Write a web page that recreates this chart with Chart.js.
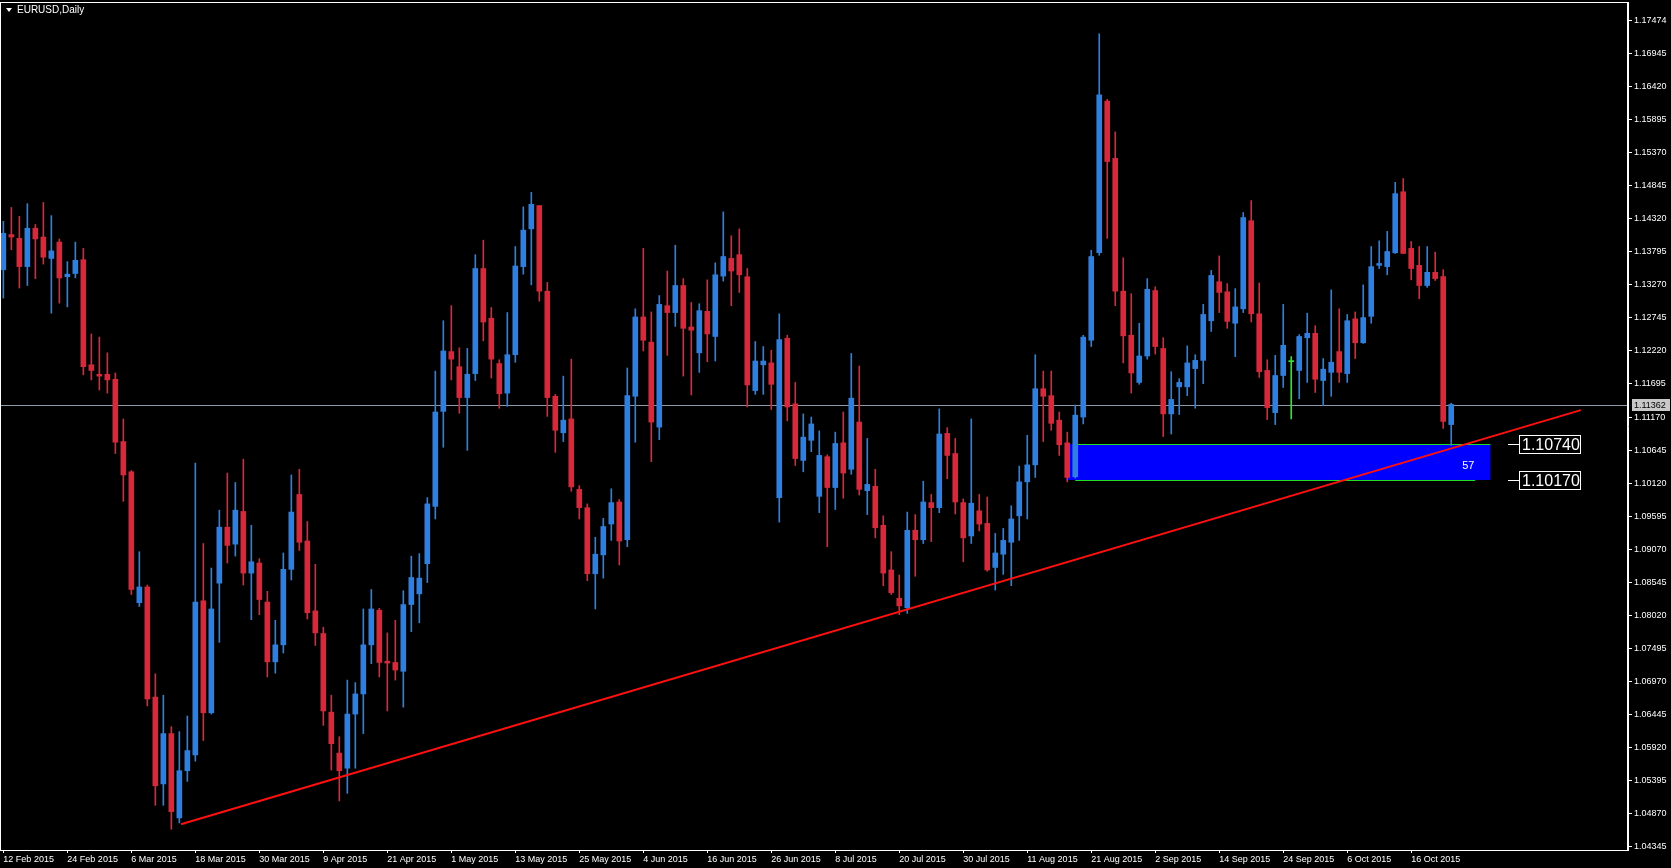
<!DOCTYPE html>
<html>
<head>
<meta charset="utf-8">
<script src="https://cdn.jsdelivr.net/npm/chart.js@4.4.0/dist/chart.umd.min.js"></script>
<style>
html, body { margin: 0; padding: 0; background: #000; }
#wrap { width: 1671px; height: 868px; }
</style>
</head>
<body>
<div id="wrap"><canvas id="chart"></canvas></div>
<script>
// EURUSD daily, 12 Feb 2015 .. 23 Oct 2015
const opens = [
    1.1351,1.1407,1.1401,1.1356,1.1417,1.1403,1.1369,1.1395,1.1340,1.1345,
    1.1367,1.1200,1.1185,1.1185,1.1177,1.1078,1.1030,1.0822,1.0847,1.0672,
    1.0534,1.0614,1.0480,1.0555,1.0580,1.0825,1.0647,1.0853,1.0942,1.0915,
    1.0967,1.0869,1.0885,1.0823,1.0728,1.0755,1.0875,1.0994,1.0920,1.0809,
    1.0773,1.0648,1.0583,1.0559,1.0645,1.0677,1.0755,1.0810,1.0729,1.0727,
    1.0713,1.0819,1.0836,1.0884,1.0975,1.1126,1.1221,1.1197,1.1148,1.1186,
    1.1353,1.1274,1.1202,1.1155,1.1216,1.1356,1.1416,1.1453,1.1317,1.1150,
    1.1092,1.1114,1.1002,1.0973,1.0868,1.0898,1.0947,1.0982,1.0922,1.1150,
    1.1276,1.1236,1.1101,1.1294,1.1283,1.1326,1.1260,1.1219,1.1285,1.1245,
    1.1341,1.1369,1.1375,1.1340,1.1159,1.1200,1.1203,1.0989,1.1242,1.1138,
    1.1048,1.1080,1.0991,1.1054,1.1005,1.1076,1.1034,1.1109,1.1000,1.1007,
    1.0945,1.0874,1.0829,1.0814,1.0937,1.0922,1.0981,1.0973,1.1091,1.1059,
    1.0981,1.0928,1.0968,1.0948,1.0878,1.0899,1.0918,1.0960,1.1014,1.1041,
    1.1162,1.1151,1.1112,1.1076,1.1022,1.1117,1.1239,1.1378,1.1619,1.1528,
    1.1317,1.1247,1.1172,1.1214,1.1318,1.1226,1.1122,1.1165,1.1165,1.1194,
    1.1207,1.1270,1.1332,1.1316,1.1266,1.1289,1.1429,1.1281,1.1191,1.1124,
    1.1183,1.1205,1.1191,1.1243,1.1250,1.1175,1.1188,1.1221,1.1186,1.1273,
    1.1235,1.1277,1.1358,1.1356,1.1378,1.1475,1.1385,1.1358,1.1326,1.1347,
    1.1340,1.1105
];
const highs = [
    1.1428,1.1450,1.1436,1.1456,1.1423,1.1458,1.1437,1.1400,1.1364,1.1395,
    1.1385,1.1249,1.1244,1.1219,1.1187,1.1114,1.1032,1.0903,1.0850,1.0709,
    1.0675,1.0625,1.0617,1.0642,1.1044,1.0916,1.0877,1.0969,1.1028,1.1013,
    1.1050,1.0945,1.0892,1.0840,1.0794,1.0901,1.1025,1.1034,1.0951,1.0883,
    1.0783,1.0675,1.0609,1.0699,1.0695,1.0812,1.0843,1.0813,1.0774,1.0794,
    1.0841,1.0896,1.0900,1.0989,1.1190,1.1270,1.1294,1.1227,1.1226,1.1375,
    1.1398,1.1291,1.1208,1.1283,1.1388,1.1451,1.1474,1.1453,1.1331,1.1153,
    1.1182,1.1209,1.1008,1.0979,1.0926,1.0956,1.1003,1.0986,1.1195,1.1289,
    1.1385,1.1284,1.1310,1.1349,1.1390,1.1337,1.1299,1.1297,1.1335,1.1362,
    1.1443,1.1405,1.1416,1.1353,1.1237,1.1229,1.1223,1.1281,1.1247,1.1172,
    1.1122,1.1117,1.1095,1.1057,1.1093,1.1125,1.1218,1.1198,1.1083,1.1034,
    1.0960,1.0903,1.0866,1.0966,1.0962,1.1015,1.0994,1.1130,1.1100,1.1083,
    1.0987,1.1114,1.0994,1.0990,1.0932,1.0940,1.0976,1.1039,1.1088,1.1216,
    1.1190,1.1190,1.1125,1.1093,1.1136,1.1247,1.1382,1.1726,1.1622,1.1570,
    1.1370,1.1313,1.1266,1.1337,1.1324,1.1243,1.1189,1.1178,1.1230,1.1216,
    1.1296,1.1350,1.1373,1.1329,1.1321,1.1442,1.1461,1.1330,1.1208,1.1215,
    1.1296,1.1213,1.1248,1.1282,1.1262,1.1210,1.1319,1.1289,1.1280,1.1284,
    1.1327,1.1388,1.1397,1.1412,1.1490,1.1496,1.1396,1.1388,1.1388,1.1379,
    1.1351,1.1139
];
const lows = [
    1.1306,1.1383,1.1322,1.1326,1.1337,1.1360,1.1282,1.1298,1.1292,1.1338,
    1.1184,1.1176,1.1160,1.1155,1.1059,1.0983,1.0835,1.0816,1.0658,1.0500,
    1.0500,1.0462,1.0472,1.0538,1.0570,1.0603,1.0645,1.0759,1.0885,1.0896,
    1.0850,1.0795,1.0803,1.0704,1.0710,1.0742,1.0858,1.0905,1.0796,1.0754,
    1.0627,1.0556,1.0507,1.0519,1.0559,1.0614,1.0725,1.0704,1.0650,1.0699,
    1.0656,1.0776,1.0790,1.0854,1.0955,1.1069,1.1176,1.1123,1.1064,1.1175,
    1.1238,1.1179,1.1131,1.1134,1.1204,1.1344,1.1327,1.1301,1.1118,1.1061,
    1.1078,1.0999,1.0955,1.0857,1.0812,1.0861,1.0921,1.0882,1.0911,1.1077,
    1.1222,1.1046,1.1081,1.1215,1.1261,1.1182,1.1152,1.1188,1.1205,1.1206,
    1.1333,1.1294,1.1315,1.1133,1.1153,1.1153,1.1129,1.0950,1.1111,1.1040,
    1.1030,1.1062,1.0965,1.0911,1.0970,1.0988,1.1026,1.0993,1.0962,1.0925,
    1.0849,1.0835,1.0803,1.0805,1.0864,1.0916,1.0919,1.0965,1.1019,1.0963,
    1.0887,1.0916,1.0936,1.0872,1.0842,1.0867,1.0849,1.0921,1.0955,1.1021,
    1.1078,1.1096,1.1056,1.1014,1.1020,1.1106,1.1229,1.1374,1.1401,1.1294,
    1.1203,1.1155,1.1169,1.1209,1.1217,1.1086,1.1090,1.1121,1.1151,1.1131,
    1.1170,1.1253,1.1283,1.1258,1.1213,1.1283,1.1268,1.1180,1.1113,1.1105,
    1.1164,1.1114,1.1146,1.1172,1.1156,1.1135,1.1150,1.1172,1.1172,1.1210,
    1.1234,1.1266,1.1353,1.1343,1.1377,1.1377,1.1335,1.1305,1.1323,1.1334,
    1.1099,1.1072
];
const closes = [
    1.1409,1.1403,1.1356,1.1417,1.1400,1.1371,1.1381,1.1338,1.1344,1.1366,
    1.1197,1.1191,1.1182,1.1176,1.1077,1.1025,1.0843,1.0847,1.0669,1.0531,
    1.0614,1.0490,1.0555,1.0587,1.0823,1.0647,1.0812,1.0942,1.0913,1.0969,
    1.0869,1.0887,1.0827,1.0728,1.0755,1.0875,1.0966,1.0918,1.0806,1.0774,
    1.0650,1.0598,1.0555,1.0645,1.0677,1.0755,1.0812,1.0727,1.0726,1.0715,
    1.0819,1.0862,1.0861,1.0979,1.1125,1.1222,1.1209,1.1148,1.1185,1.1353,
    1.1268,1.1209,1.1154,1.1216,1.1357,1.1414,1.1455,1.1317,1.1148,1.1096,
    1.1112,1.1006,1.0973,1.0868,1.0899,1.0943,1.0981,1.0920,1.1151,1.1276,
    1.1239,1.1109,1.1296,1.1283,1.1326,1.1258,1.1255,1.1286,1.1249,1.1343,
    1.1372,1.1349,1.1343,1.1168,1.1206,1.1206,1.1169,1.1240,1.1133,1.1051,
    1.1085,1.1106,1.1056,1.1005,1.1075,1.1028,1.1147,1.1002,1.1010,1.0941,
    1.0869,1.0838,1.0817,1.0937,1.0922,1.0982,1.0973,1.1090,1.1056,1.0982,
    1.0925,1.0980,1.0947,1.0874,1.0901,1.0921,1.0955,1.1014,1.1041,1.1162,
    1.1150,1.1107,1.1073,1.1021,1.1120,1.1244,1.1372,1.1629,1.1523,1.1317,
    1.1246,1.1187,1.1214,1.1320,1.1229,1.1122,1.1145,1.1172,1.1203,1.1207,
    1.1280,1.1342,1.1315,1.1269,1.1292,1.1434,1.1281,1.1189,1.1132,1.1183,
    1.1231,1.1205,1.1245,1.1250,1.1177,1.1193,1.1204,1.1188,1.1270,1.1235,
    1.1275,1.1356,1.1361,1.1380,1.1472,1.1377,1.1353,1.1326,1.1347,1.1337,
    1.1110,1.1137
];

// one label every 8 bars
const dateLabels = ['12 Feb 2015', '24 Feb 2015', '6 Mar 2015', '18 Mar 2015', '30 Mar 2015', '9 Apr 2015',
    '21 Apr 2015', '1 May 2015', '13 May 2015', '25 May 2015', '4 Jun 2015', '16 Jun 2015', '26 Jun 2015',
    '8 Jul 2015', '20 Jul 2015', '30 Jul 2015', '11 Aug 2015', '21 Aug 2015', '2 Sep 2015', '14 Sep 2015',
    '24 Sep 2015', '6 Oct 2015', '16 Oct 2015'];
const priceTicks = [1.04345, 1.04870, 1.05395, 1.05920, 1.06445, 1.06970, 1.07495, 1.08020, 1.08545,
    1.09070, 1.09595, 1.10120, 1.10645, 1.11170, 1.11695, 1.12220, 1.12745, 1.13270, 1.13795,
    1.14320, 1.14845, 1.15370, 1.15895, 1.16420, 1.16945, 1.17474];

const lastPrice = 1.11362;
const zoneTop = 1.10740;
const zoneBottom = 1.10170;
const zoneFrom = 132.9;
const zoneTo = 185.9;
const zoneText = '57';
const trendline = [{ x: 22.2, y: 1.0470 }, { x: 197.2, y: 1.1128 }];

const BULL = '#2f7fe0';
const BEAR = '#d9283a';
const DOJI = '#2ee82e';

const colors = opens.map((o, i) => closes[i] > o ? BULL : (closes[i] < o ? BEAR : DOJI));
const wicks = lows.map((l, i) => ({ x: i, y: [l, highs[i]] }));
const bodies = opens.map((o, i) => ({ x: i, y: [o, closes[i]] }));

// dibuja zona, lineas y etiquetas propias de MT4
const overlay = {
    id: 'overlay',
    beforeDatasetsDraw(chart) {
        const { ctx, scales: { x, y } } = chart;
        const x1 = x.getPixelForValue(zoneFrom), x2 = x.getPixelForValue(zoneTo);
        const y1 = y.getPixelForValue(zoneTop), y2 = y.getPixelForValue(zoneBottom);
        ctx.save();
        ctx.fillStyle = '#0000ff';
        ctx.fillRect(x1, y1, x2 - x1, y2 - y1);
        ctx.strokeStyle = '#22dd22';
        ctx.lineWidth = 1;
        ctx.beginPath();
        ctx.moveTo(x.getPixelForValue(134), Math.round(y1) + 0.5);
        ctx.lineTo(x2, Math.round(y1) + 0.5);
        ctx.moveTo(x.getPixelForValue(134), Math.round(y2) + 0.5);
        ctx.lineTo(x.getPixelForValue(184), Math.round(y2) + 0.5);
        ctx.stroke();
        ctx.fillStyle = '#ffffff';
        ctx.font = '11px "Liberation Sans"';
        ctx.textAlign = 'right';
        ctx.textBaseline = 'middle';
        ctx.fillText(zoneText, x2 - 16, (y1 + y2) / 2 + 4);
        // last price line
        const yp = Math.round(y.getPixelForValue(lastPrice)) + 0.5;
        ctx.strokeStyle = '#8f9aa8';
        ctx.beginPath();
        ctx.moveTo(chart.chartArea.left, yp);
        ctx.lineTo(chart.chartArea.right, yp);
        ctx.stroke();
        ctx.restore();
    },
    afterDraw(chart) {
        const { ctx, chartArea: a, scales: { x, y } } = chart;
        ctx.save();
        ctx.strokeStyle = '#ffffff';
        ctx.lineWidth = 1;
        ctx.strokeRect(a.left + 0.5, a.top + 0.5, a.right - a.left - 1, a.bottom - a.top);
        // title
        ctx.fillStyle = '#ffffff';
        ctx.beginPath();
        ctx.moveTo(6, 8); ctx.lineTo(12, 8); ctx.lineTo(9, 12); ctx.closePath();
        ctx.fill();
        ctx.font = '10px "Liberation Sans"';
        ctx.textBaseline = 'middle';
        ctx.textAlign = 'left';
        ctx.fillText('EURUSD,Daily', 17, 10);
        // price labels for the zone
        ctx.font = '16px "Liberation Sans"';
        [zoneTop, zoneBottom].forEach(p => {
            const yy = Math.round(y.getPixelForValue(p)) + 0.5;
            ctx.strokeStyle = '#ffffff';
            ctx.beginPath();
            ctx.moveTo(1508, yy); ctx.lineTo(1519, yy);
            ctx.stroke();
            ctx.fillStyle = '#000000';
            ctx.fillRect(1519.5, yy - 9, 61, 18);
            ctx.strokeRect(1519.5, yy - 9, 61, 18);
            ctx.fillStyle = '#ffffff';
            ctx.fillText(p.toFixed(5), 1522, yy + 1);
        });
        // last price tag on the axis
        const yp = Math.round(y.getPixelForValue(lastPrice));
        ctx.fillStyle = '#c8c8c8';
        ctx.fillRect(a.right + 4, yp - 6, 38, 12);
        ctx.fillStyle = '#000000';
        ctx.font = '9px "Liberation Sans"';
        ctx.fillText(lastPrice.toFixed(5), a.right + 6, yp + 0.5);
        ctx.restore();
    }
};

const ctx = document.getElementById('chart').getContext('2d');
new Chart(ctx, {
    type: 'bar',
    data: {
        datasets: [
            {
                type: 'line',
                data: trendline,
                borderColor: '#ff1010',
                borderWidth: 2,
                pointRadius: 0,
                order: 0
            },
            {
                data: bodies,
                backgroundColor: colors,
                barThickness: 5,
                minBarLength: 1,
                grouped: false,
                order: 1
            },
            {
                data: wicks,
                backgroundColor: colors,
                barThickness: 1,
                grouped: false,
                order: 2
            }
        ]
    },
    options: {
        responsive: true,
        maintainAspectRatio: false,
        animation: false,
        layout: { padding: { top: 2, left: 0, right: 0, bottom: 0 } },
        plugins: { legend: { display: false }, tooltip: { enabled: false } },
        scales: {
            x: {
                type: 'linear',
                offset: false,
                min: -0.42,
                max: 203.1,
                afterBuildTicks: function (scale) {
                    scale.ticks = dateLabels.map((d, k) => ({ value: k * 8 }));
                },
                afterFit: function (scale) {
                    scale.height = 18;
                    scale.paddingLeft = 0;
                    scale.paddingRight = 0;
                },
                ticks: {
                    autoSkip: false,
                    maxRotation: 0,
                    align: 'start',
                    padding: 1,
                    color: '#ffffff',
                    font: { family: 'Liberation Sans', size: 9 },
                    callback: function (value) { return dateLabels[Math.round(value / 8)]; }
                },
                grid: { drawOnChartArea: false, offset: false, color: '#ffffff', tickLength: 3 },
                border: { color: '#ffffff' }
            },
            y: {
                position: 'right',
                min: 1.0429,
                max: 1.17765,
                afterBuildTicks: function (scale) {
                    scale.ticks = priceTicks.map(v => ({ value: v }));
                },
                afterFit: function (scale) {
                    scale.width = 43;
                    scale.paddingTop = 0;
                    scale.paddingBottom = 0;
                },
                ticks: {
                    padding: 2,
                    color: '#ffffff',
                    font: { family: 'Liberation Sans', size: 9 },
                    callback: function (value) { return value.toFixed(5); }
                },
                grid: { drawOnChartArea: false, color: '#ffffff', tickLength: 4 },
                border: { color: '#ffffff' }
            }
        }
    },
    plugins: [overlay]
});
</script>
</body>
</html>
